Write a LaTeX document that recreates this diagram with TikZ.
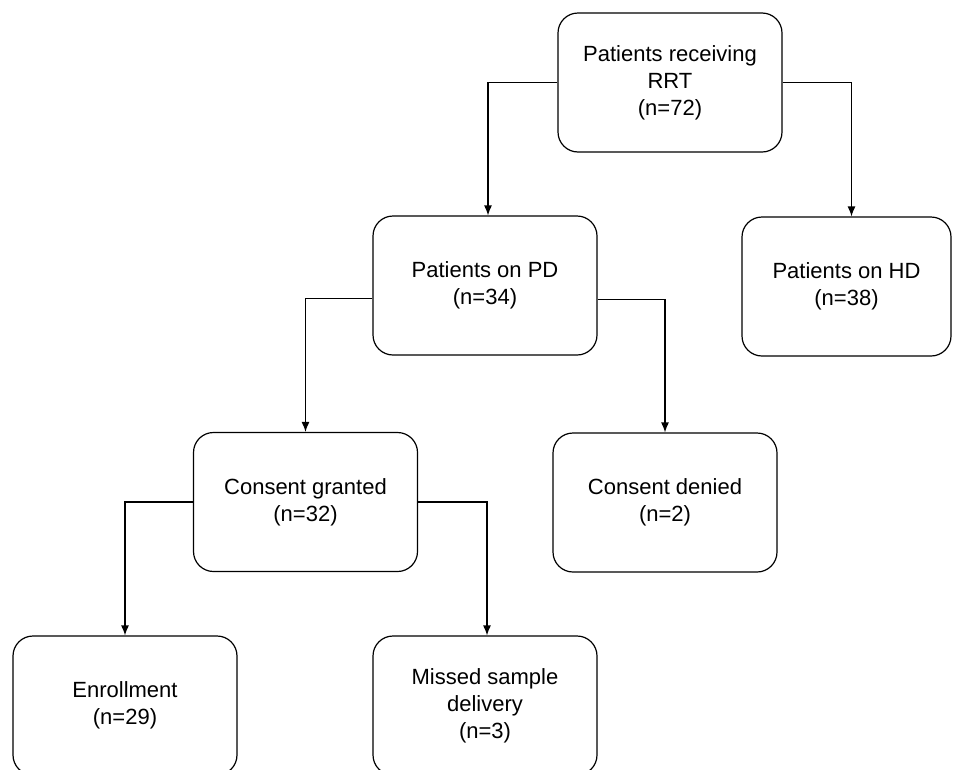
\documentclass[tikz,border=0pt]{standalone}
\usepackage{fontspec}
\setmainfont{Liberation Sans}
\usetikzlibrary{arrows.meta}

\begin{document}
\begin{tikzpicture}[x=1pt, y=-1pt,
        box/.style={draw, rounded corners=20pt, line width=1.2pt, minimum width=224pt, minimum height=139pt, inner sep=0pt, align=center, font=\fontsize{22}{27}\selectfont},
        arr/.style={-{Latex[length=10pt, width=8pt]}, line width=1.2pt}]
                        \useasboundingbox (0, 0) rectangle (953, 769);
                        \clip (0, 0) rectangle (953, 769);
                        \node[box] (rrt) at (670, 82.5){Patients receiving\\RRT\\(n=72)};
                        \node[box] (pd) at (485, 285.5){Patients on PD\\(n=34)};
                        \node[box, minimum width=209pt] (hd) at (846.5, 286.5){Patients on HD\\(n=38)};
                        \node[box] (granted) at (305.5, 502){Consent granted\\(n=32)};
                        \node[box] (denied) at (665, 502.5){Consent denied\\(n=2)};
                        \node[box] (enroll) at (125, 705.5){Enrollment\\(n=29)};
                        \node[box] (missed) at (485, 705.5){Missed sample\\delivery\\(n=3)};
                        \draw[arr] (rrt.west) -| ([xshift=3pt]pd.north);
                        \draw[arr] (rrt.east) -| ([xshift=5pt]hd.north);
                        \draw[arr] ([yshift=-13pt]pd.west) -| (granted.north);
                        \draw[arr] ([yshift=-14pt]pd.east) -| (denied.north);
                        \draw[arr] (granted.west) -| (enroll.north);
                        \draw[arr] (granted.east) -| ([xshift=2pt]missed.north);
                \end{tikzpicture}
\end{document}
